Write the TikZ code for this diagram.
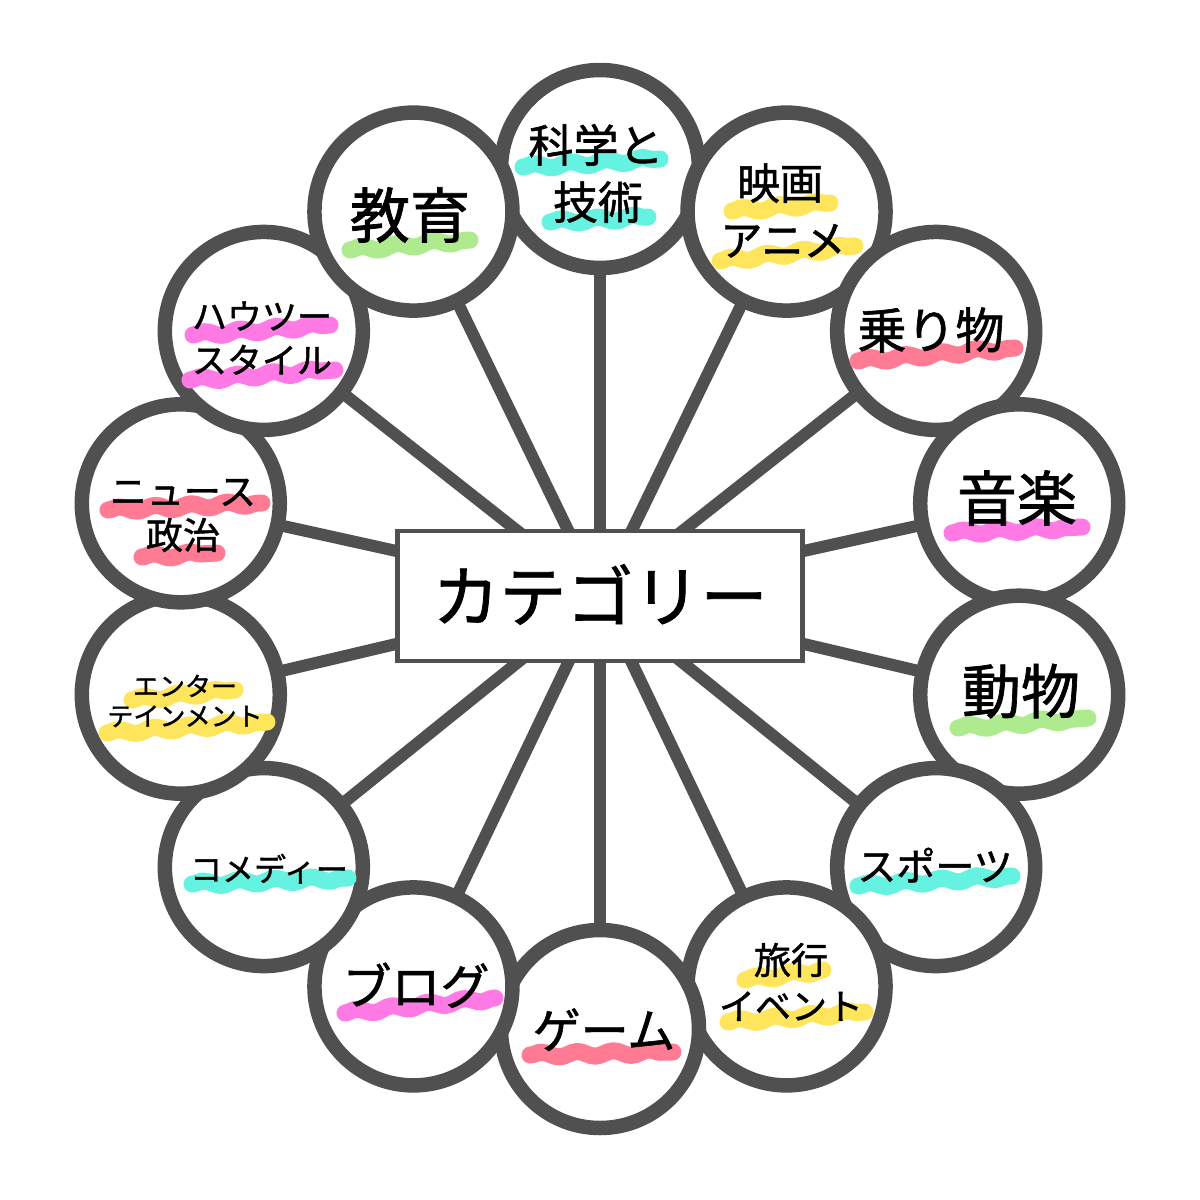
\documentclass[tikz,border=0pt]{standalone}
\usepackage{fontspec}
\newfontfamily\jp[FakeBold=1.2]{Noto Sans CJK JP}
\usetikzlibrary{decorations.pathmorphing,backgrounds}
\definecolor{ring}{HTML}{505050}
\definecolor{hcyan}{HTML}{66F2E0}
\definecolor{hyellow}{HTML}{FFE55C}
\definecolor{hred}{HTML}{FF7B94}
\definecolor{hpink}{HTML}{FF7AE5}
\definecolor{hgreen}{HTML}{ADEB8E}
\newcommand{\jt}[2]{{\jp\fontsize{#1}{#1}\selectfont\rule[-0.12em]{0pt}{1em}#2}}
\begin{document}
\begin{tikzpicture}[x=1pt,y=-1pt,
  bub/.style={circle,draw=ring,line width=14.5,fill=white,minimum size=198,inner sep=0},
  conn/.style={draw=ring,line width=12},
  catbox/.style={rectangle,draw=ring,line width=4.5,fill=white,minimum width=405,minimum height=130,inner sep=0},
  lbl/.style={inner sep=0,text=black},
  hl/.style={draw=#1,line width=17,line cap=round,line join=round,decorate,decoration={snake,segment length=36,amplitude=2.5}}]
\useasboundingbox (0,0) rectangle (1200,1200);
\node[catbox] (cat) at (600,596) {\jt{67}{カテゴリー}};
\foreach \i in {1,...,14}{
  \pgfmathsetmacro\ang{90-(\i-1)*360/14}
  \node[bub] (c\i) at ({600+430*cos(\ang)},{599-430*sin(\ang)}) {};
}
\begin{pgfonlayer}{background}
\fill[white] (0,0) rectangle (1200,1200);
\foreach \i in {1,...,14}{ \draw[conn] (cat.center) -- (c\i.center); }
\end{pgfonlayer}
% highlights
\draw[hl=hcyan] (523,167) -- (660,159);
\draw[hl=hcyan] (550,222) -- (648,217);
\draw[hl=hyellow] (732,211) -- (830,203);
\draw[hl=hyellow] (720,261) -- (855,246);
\draw[hl=hred] (858,361) -- (1015,348);
\draw[hl=hpink] (952,533) -- (1082,527);
\draw[hl=hgreen] (958,728) -- (1088,718);
\draw[hl=hcyan] (858,886) -- (1012,876);
\draw[hl=hyellow] (745,980) -- (823,970);
\draw[hl=hyellow] (728,1022) -- (865,1012);
\draw[hl=hred] (530,1055) -- (673,1052);
\draw[hl=hpink] (345,1013) -- (495,998);
\draw[hl=hcyan] (192,884) -- (348,878);
\draw[hl=hyellow] (132,700) -- (235,690);
\draw[hl=hyellow] (107,733) -- (267,722);
\draw[hl=hred] (108,510) -- (262,503);
\draw[hl=hred] (142,557) -- (217,553);
\draw[hl=hpink] (193,335) -- (330,325);
\draw[hl=hpink] (190,380) -- (335,370);
\draw[hl=hgreen] (350,250) -- (470,240);
% labels
\node[lbl] (t1a) at (596,145) {\jt{45}{科学と}};
\node[lbl] (t1b) at (598,202) {\jt{45}{技術}};
\node[lbl] (t2a) at (780,183) {\jt{43}{映画}};
\node[lbl] (t2b) at (783,240) {\jt{42}{アニメ}};
\node[lbl] (t3) at (931,330) {\jt{49}{乗り物}};
\node[lbl] (t4) at (1017,498) {\jt{60}{音楽}};
\node[lbl] (t5) at (1021,691) {\jt{59}{動物}};
\node[lbl] (t6) at (935,866) {\jt{39}{スポーツ}};
\node[lbl] (t7a) at (791,960) {\jt{37}{旅行}};
\node[lbl] (t7b) at (791,1006) {\jt{36}{イベント}};
\node[lbl] (t8) at (604,1030) {\jt{48}{ゲーム}};
\node[lbl] (t9) at (416,986) {\jt{49}{ブログ}};
\node[lbl] (t10) at (269,869) {\jt{32}{コメディー}};
\node[lbl] (t11a) at (185,686) {\jt{26}{エンター}};
\node[lbl] (t11b) at (185,716) {\jt{26}{テインメント}};
\node[lbl] (t12a) at (183,491) {\jt{37}{ニュース}};
\node[lbl] (t12b) at (183,535) {\jt{37}{政治}};
\node[lbl] (t13a) at (262,316) {\jt{35}{ハウツー}};
\node[lbl] (t13b) at (262,360) {\jt{35}{スタイル}};
\node[lbl] (t14) at (410,215) {\jt{60}{教育}};
\end{tikzpicture}
\end{document}
